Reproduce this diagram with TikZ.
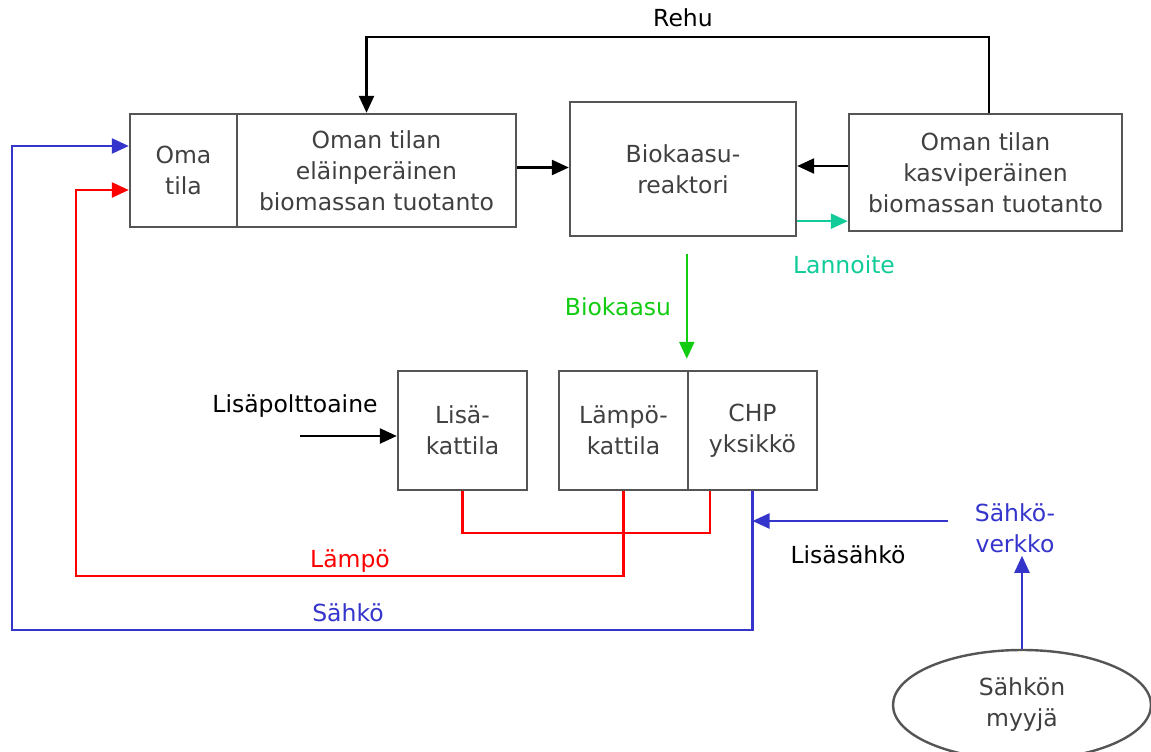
\documentclass[tikz,border=0pt]{standalone}
\usepackage{fontspec}
\setmainfont{DejaVu Sans}
\usepackage{tikz}
\usetikzlibrary{arrows.meta,shapes.geometric}

\definecolor{harmaa}{HTML}{555555}
\definecolor{sininen}{HTML}{3535CC}
\definecolor{vihrea}{HTML}{11CC11}
\definecolor{turkoosi}{HTML}{11CC99}

\begin{document}
\begin{tikzpicture}[
  x=1pt, y=-1pt,
  font=\fontsize{23.5}{31}\selectfont,
  >={Triangle[length=17pt,width=15pt]},
  line width=2.4pt,
  laatikko/.style={draw=harmaa, text=black!75, align=center, inner sep=0pt},
  merkki/.style={align=center, inner sep=2pt},
]
\useasboundingbox (0,0) rectangle (1151,752);
% ylarivi
\node[laatikko, minimum width=107pt, minimum height=113pt] (oma) at (183.5,170.5) {Oma\\ tila};
\node[laatikko, minimum width=279pt, minimum height=113pt] (elain) at (376.5,170.5) {Oman tilan\\ eläinperäinen\\ biomassan tuotanto};
\node[laatikko, minimum width=226pt, minimum height=134pt] (reaktori) at (683,169) {Biokaasu-\\ reaktori};
\node[laatikko, minimum width=273pt, minimum height=117pt] (kasvi) at (985.5,172.5) {Oman tilan\\ kasviperäinen\\ biomassan tuotanto};
% alarivi
\node[laatikko, minimum width=129pt, minimum height=119pt] (lisa) at (462.5,430.5) {Lisä-\\ kattila};
\node[laatikko, minimum width=129pt, minimum height=119pt] (lampo) at (623.5,430.5) {Lämpö-\\ kattila};
\node[laatikko, minimum width=129pt, minimum height=119pt] (chp) at (752.5,430.5) {CHP\\ yksikkö};
\node[draw=harmaa, ellipse, text=black!75, align=center, minimum width=258pt, minimum height=110pt, inner sep=0pt] (myyja) at (1022,705) {Sähkön\\ myyjä};
\node[merkki, text=sininen] (verkko) at (1015,528) {Sähkö-\\ verkko};
% tekstit
\node[merkki] (rehu) at (683,18) {Rehu};
\node[merkki, text=turkoosi] (lannoite) at (844,265) {Lannoite};
\node[merkki, text=vihrea] (biokaasu) at (618,307) {Biokaasu};
\node[merkki] (polttoaine) at (295,406) {Lisäpolttoaine};
\node[merkki, text=red] (lampolabel) at (350,561) {Lämpö};
\node[merkki, text=sininen] (sahkolabel) at (348,613) {Sähkö};
\node[merkki] (lisasahko) at (848,555) {Lisäsähkö};
\coordinate (pa) at (300,436);
% yhteydet
\draw[->] ([xshift=3.5pt]kasvi.north) -- ++(0,-76) -| ([xshift=-10pt]elain.north);
\draw[->] ([yshift=3pt]elain.east) -- ([yshift=3pt]elain.east -| reaktori.west);
\draw[->] ([yshift=3pt]kasvi.west |- reaktori.east) -- ([yshift=3pt]reaktori.east);
\draw[->, turkoosi] ([yshift=16pt]reaktori.south east) -- ([yshift=16pt]reaktori.south east -| kasvi.west);
\draw[->, vihrea] ([yshift=-17pt]reaktori.south -| chp.north west) -- ([yshift=11pt]chp.north west);
\draw[->] (pa) -- (pa -| lisa.west);
\draw[red] (lisa.south) -- ++(0,42) -| ([xshift=-42.5pt]chp.south);
\draw[->, red] (lampo.south) -- ++(0,85) -- ++(-547.5,0) |- ([yshift=-19.5pt]oma.west);
\draw[->, sininen] (chp.south) -- ++(0,139) -- ++(-740.5,0) |- ([yshift=24.5pt]oma.west);
\draw[->, sininen] ([xshift=-24pt,yshift=7pt]verkko.west) -- ([yshift=7pt]verkko.west -| chp.south);
\draw[->, sininen] (myyja.north) -- (myyja.north |- verkko.south);
\end{tikzpicture}
\end{document}
